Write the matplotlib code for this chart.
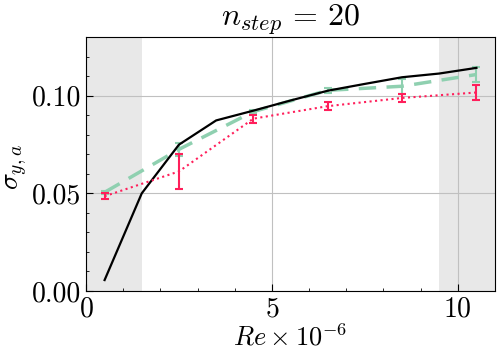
import numpy as np
import matplotlib
matplotlib.use("Agg")
import matplotlib.pyplot as plt
from matplotlib.ticker import MultipleLocator

plt.rcParams['mathtext.fontset'] = 'cm'
plt.rcParams['font.family'] = 'serif'
plt.rcParams['font.serif'] = ['cmr10']
plt.rcParams['axes.formatter.use_mathtext'] = True

# data
re_black = [0.5, 1.5, 2.5, 3.5, 4.5, 5.5, 6.5, 7.5, 8.5, 9.5, 10.5]
sig_black = [0.0056, 0.050, 0.0749, 0.0873, 0.0923, 0.0975, 0.1025, 0.106, 0.1094, 0.1113, 0.1142]

re_err = [0.5, 2.5, 4.5, 6.5, 8.5, 10.5]
sig_green = [0.0505, 0.0725, 0.0918, 0.1027, 0.1048, 0.1108]
err_green = [0.0008, 0.0035, 0.0008, 0.0014, 0.0038, 0.0038]
sig_pink = [0.0485, 0.0612, 0.0882, 0.0946, 0.0988, 0.1016]
err_pink = [0.0015, 0.0090, 0.0020, 0.0020, 0.0022, 0.0040]

fig = plt.figure(figsize=(5.02, 3.57), dpi=100)
ax = fig.add_axes([86/502, 1-291/357, 409/502, 254/357])

ax.axvspan(0, 1.5, color='#e8e8e8', zorder=0, lw=0)
ax.axvspan(9.5, 11, color='#e8e8e8', zorder=0, lw=0)

ax.plot(re_black, sig_black, color='black', lw=1.6, zorder=3)
ax.errorbar(re_err, sig_green, yerr=err_green, color='#8fd0b0', lw=2.5,
            ls=(0, (5, 3)), capsize=3, elinewidth=1.5, capthick=1.5, zorder=2)
ax.errorbar(re_err, sig_pink, yerr=err_pink, color='#ff1f5b', lw=1.5,
            ls=':', capsize=3, elinewidth=1.5, capthick=1.5, zorder=4)

ax.set_xlim(0, 11)
ax.set_ylim(0, 0.13)
ax.xaxis.set_major_locator(MultipleLocator(5))
ax.xaxis.set_minor_locator(MultipleLocator(1))
ax.yaxis.set_major_locator(MultipleLocator(0.05))
ax.yaxis.set_minor_locator(MultipleLocator(0.01))
ax.yaxis.set_major_formatter(matplotlib.ticker.FormatStrFormatter('%.2f'))
ax.tick_params(which='both', direction='in', labelsize=20)
ax.tick_params(which='major', length=5)
ax.tick_params(which='minor', length=2.5)
ax.grid(True, which='major', color='#c0c0c0', lw=0.8)
ax.set_axisbelow(True)

ax.set_title(r'$n_{step}\,=\,20$', fontsize=23, pad=5)
ax.set_xlabel(r'$Re \times 10^{-6}$', fontsize=19, labelpad=1)
ax.set_ylabel(r'$\sigma_{y,a}$', fontsize=20)
ax.yaxis.set_label_coords(-0.14, 0.49)

fig.savefig('out.png', dpi=100)
